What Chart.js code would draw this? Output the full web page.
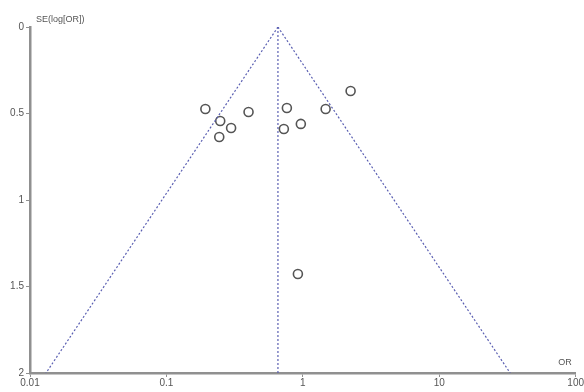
<!DOCTYPE html>
<html>
<head>
<meta charset="utf-8">
<script src="https://cdn.jsdelivr.net/npm/chart.js@4/dist/chart.umd.min.js"></script>
<style>
  html, body { margin: 0; padding: 0; background: #fff; }
  canvas { display: block; }
</style>
</head>
<body>
<canvas id="funnel" width="584" height="392"></canvas>
<script>
// study estimates
var studyOR = [0.193, 0.248, 0.298, 0.244, 0.40, 0.764, 0.726, 0.967, 1.47, 2.24, 0.92];
var studySE = [0.474, 0.543, 0.584, 0.636, 0.491, 0.468, 0.590, 0.560, 0.474, 0.370, 1.428];

// funnel: pooled estimate at apex, limits at SE = 2
var pooledOR = 0.657;
var funnelSE = [0, 2];
var lowerOR = [0.657, 0.0131];
var upperOR = [0.657, 33.1];

var xTicks = [0.01, 0.1, 1, 10, 100];
var yTicks = [0, 0.5, 1, 1.5, 2];

var blue = "#5a5fb2";
var axisGray = "#909090";
var textGray = "#555";
var fontFam = "'Liberation Sans', Arial, sans-serif";

var points = studyOR.map(function(v, i) { return { x: v, y: studySE[i] }; });

function lineData(xs) {
    return xs.map(function(v, i) { return { x: v, y: funnelSE[i] }; });
}

var dashStyle = {
    type: "line",
    borderColor: blue,
    borderWidth: 1.2,
    borderDash: [2, 2],
    pointRadius: 0,
    fill: false,
    showLine: true
};

var axisLabels = {
    id: "axisLabels",
    afterDraw: function(chart) {
        var ctx = chart.ctx, area = chart.chartArea;
        ctx.save();
        ctx.fillStyle = textGray;
        ctx.font = "9px " + fontFam;
        ctx.textBaseline = "middle";
        ctx.textAlign = "left";
        ctx.fillText("SE(log[OR])", area.left + 6, area.top - 7);
        ctx.textAlign = "right";
        ctx.fillText("OR", area.right - 4, area.bottom - 10);
        ctx.restore();
    }
};

new Chart(document.getElementById("funnel"), {
    type: "scatter",
    data: {
        datasets: [
            Object.assign({ data: lineData(lowerOR) }, dashStyle),
            Object.assign({ data: lineData(upperOR) }, dashStyle),
            Object.assign({ data: lineData([pooledOR, pooledOR]) }, dashStyle),
            {
                type: "scatter",
                data: points,
                pointRadius: 4.5,
                pointBorderWidth: 1.6,
                pointBorderColor: "#555",
                pointBackgroundColor: "#fff"
            }
        ]
    },
    options: {
        responsive: false,
        animation: false,
        layout: { padding: { top: 27, right: 6, left: 0, bottom: 0 } },
        plugins: {
            legend: { display: false },
            tooltip: { enabled: false }
        },
        scales: {
            x: {
                type: "logarithmic",
                min: 0.01,
                max: 100,
                afterBuildTicks: function(scale) {
                    scale.ticks = xTicks.map(function(v) { return { value: v }; });
                },
                afterFit: function(scale) { scale.height = 19; },
                grid: { drawOnChartArea: false, color: axisGray, tickColor: axisGray, tickLength: 4 },
                border: { display: true, color: axisGray, width: 2.5 },
                ticks: {
                    padding: 0,
                    autoSkip: false,
                    maxRotation: 0,
                    color: textGray,
                    font: { family: fontFam, size: 10 },
                    callback: function(v) { return String(v); }
                }
            },
            y: {
                reverse: true,
                min: 0,
                max: 2,
                afterBuildTicks: function(scale) {
                    scale.ticks = yTicks.map(function(v) { return { value: v }; });
                },
                afterFit: function(scale) { scale.width = 30; },
                grid: { drawOnChartArea: false, color: axisGray, tickColor: axisGray, tickLength: 4 },
                border: { display: true, color: axisGray, width: 2.5 },
                ticks: {
                    padding: 2,
                    color: textGray,
                    font: { family: fontFam, size: 10 },
                    callback: function(v) { return String(v); }
                }
            }
        }
    },
    plugins: [axisLabels]
});
</script>
</body>
</html>
